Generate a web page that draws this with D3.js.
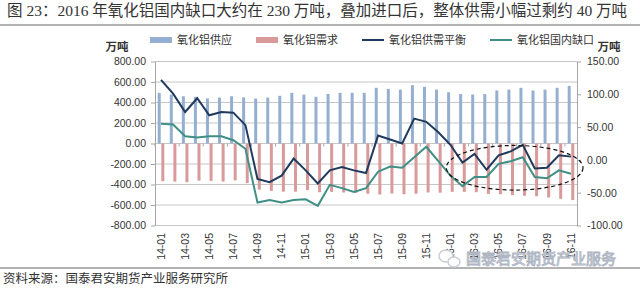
<!DOCTYPE html>
<html>
<head>
<meta charset="utf-8">
<script src="https://cdn.jsdelivr.net/npm/d3@7"></script>
<style>
  body { margin: 0; background: #fff; }
  svg { display: block; }
</style>
</head>
<body>
<div id="chart"></div>
<script>
// 数据
const months = ['14-01','14-02','14-03','14-04','14-05','14-06','14-07','14-08','14-09','14-10','14-11','14-12',
                '15-01','15-02','15-03','15-04','15-05','15-06','15-07','15-08','15-09','15-10','15-11','15-12',
                '16-01','16-02','16-03','16-04','16-05','16-06','16-07','16-08','16-09','16-10','16-11'];
const supply = [494, 477, 461, 455, 440, 448, 461, 450, 438, 448, 465, 494,
                477, 455, 484, 494, 494, 494, 543, 533, 526, 569, 553, 526,
                500, 482, 478, 482, 518, 526, 543, 517, 526, 543, 562];
const demand = [-368, -372, -378, -362, -365, -372, -360, -385, -450, -462, -470, -470,
                -455, -475, -472, -478, -482, -490, -498, -488, -495, -490, -478, -480,
                -472, -472, -475, -492, -495, -503, -510, -515, -527, -540, -552];
const balance = [122, 101, 73, 94, 68, 73, 72, 53, -29, -34, -24, 2,
                 -16, -36, -16, -11, -16, -20, 37, 31, 25, 63, 58, 42,
                 23, -4, 9, -15, 7, 13, 23, -13, -12, 7, 5];
const gap = [55, 54, 36, 34, 36, 36, 30, 17, -65, -61, -65, -61,
             -60, -70, -38, -43, -49, -43, -18, -10, -12, 4, 20, -2,
             -24, -40, -26, -26, -6, -2, 4, -26, -28, -16, -21];
const leftTicks = [-800, -600, -400, -200, 0, 200, 400, 600, 800];
const rightTicks = [-100, -50, 0, 50, 100, 150];
const seriesNames = ['氧化铝供应', '氧化铝需求', '氧化铝供需平衡', '氧化铝国内缺口'];

const cjk = '"Noto Sans CJK SC", sans-serif';
const num = '"Liberation Sans", Arial, sans-serif';
const colors = { supply: '#95afd0', demand: '#d89a9b', balance: '#1f3a5c', gap: '#3f8f86' };

const svg = d3.select('#chart').append('svg')
    .attr('width', 640)
    .attr('height', 290);

// 标题
svg.append('text')
    .attr('x', 7)
    .attr('y', 16)
    .attr('fill', '#333')
    .style('font-family', '"Liberation Serif", ' + cjk)
    .style('font-size', '15.5px')
    .text('图 23：2016 年氧化铝国内缺口大约在 230 万吨，叠加进口后，整体供需小幅过剩约 40 万吨');

svg.append('line').attr('x1', 0).attr('x2', 640).attr('y1', 25).attr('y2', 25)
    .attr('stroke', '#666').attr('stroke-width', 1);

// 比例尺
const x = d3.scaleBand().domain(months).range([155, 577]);
const yL = d3.scaleLinear().domain([-800, 800]).range([225.5, 61.5]);
const yR = d3.scaleLinear().domain([-100, 150]).range([225.5, 61.5]);
const cx = m => x(m) + x.bandwidth() / 2;
const fmt = v => d3.format('.2f')(v).replace('\u2212', '-');

// 网格线
svg.append('g').selectAll('line')
    .data(leftTicks)
    .join('line')
    .attr('x1', 155).attr('x2', 577)
    .attr('y1', d => yL(d)).attr('y2', d => yL(d))
    .attr('stroke', '#c6c6c6')
    .attr('stroke-width', 1);

// 柱子
svg.append('g').selectAll('rect')
    .data(supply)
    .join('rect')
    .attr('x', (d, i) => cx(months[i]) - 3.3)
    .attr('width', 3)
    .attr('y', d => yL(d))
    .attr('height', d => yL(0) - yL(d))
    .attr('fill', colors.supply);

svg.append('g').selectAll('rect')
    .data(demand)
    .join('rect')
    .attr('x', (d, i) => cx(months[i]) + 0.3)
    .attr('width', 3)
    .attr('y', yL(0))
    .attr('height', d => yL(d) - yL(0))
    .attr('fill', colors.demand);

// 坐标轴
const left = svg.append('g')
    .attr('transform', 'translate(155,0)')
    .call(d3.axisLeft(yL).tickValues(leftTicks).tickSize(4).tickSizeOuter(0).tickFormat(fmt));
const right = svg.append('g')
    .attr('transform', 'translate(577,0)')
    .call(d3.axisRight(yR).tickValues(rightTicks).tickSize(4).tickSizeOuter(0).tickFormat(fmt));
[left, right].forEach(g => {
    g.select('.domain').attr('stroke', '#a6a6a6');
    g.selectAll('.tick line').attr('stroke', '#a6a6a6');
    g.selectAll('.tick text')
        .attr('fill', '#333')
        .style('font-family', num)
        .style('font-size', '10.5px');
});
left.selectAll('.tick text').attr('x', -9);
right.selectAll('.tick text').attr('x', 10);

// 横轴刻度和标签
const labelled = months.filter((m, i) => i % 2 === 0);
svg.append('g').selectAll('line')
    .data(labelled)
    .join('line')
    .attr('x1', d => x(d)).attr('x2', d => x(d))
    .attr('y1', yL(0)).attr('y2', yL(0) + 3)
    .attr('stroke', '#a6a6a6');

svg.append('g').selectAll('text')
    .data(labelled)
    .join('text')
    .attr('transform', d => `translate(${cx(d)},233) rotate(-90)`)
    .attr('dy', '0.35em')
    .attr('text-anchor', 'end')
    .attr('fill', '#333')
    .style('font-family', num)
    .style('font-size', '10.5px')
    .text(d => d);

// 折线
const line = d3.line()
    .x((d, i) => cx(months[i]))
    .y(d => yR(d));

svg.append('path')
    .datum(gap)
    .attr('d', line)
    .attr('fill', 'none')
    .attr('stroke', colors.gap)
    .attr('stroke-width', 2);

svg.append('path')
    .datum(balance)
    .attr('d', line)
    .attr('fill', 'none')
    .attr('stroke', colors.balance)
    .attr('stroke-width', 2);

// 虚线圈
const ex0 = x(months[24]) + 2, ex1 = x.range()[1] + 6;
const ey0 = yR(22), ey1 = yR(-46);
svg.append('ellipse')
    .attr('cx', (ex0 + ex1) / 2)
    .attr('cy', (ey0 + ey1) / 2)
    .attr('rx', (ex1 - ex0) / 2)
    .attr('ry', (ey1 - ey0) / 2)
    .attr('fill', 'none')
    .attr('stroke', '#111')
    .attr('stroke-width', 1.2)
    .attr('stroke-dasharray', '4,3');

// 图例
const legendX = [150, 256, 362, 490];
const legend = svg.append('g');
seriesNames.forEach((name, i) => {
    const g = legend.append('g').attr('transform', `translate(${legendX[i]},40)`);
    if (i < 2) {
        g.append('rect').attr('x', 0).attr('y', -3).attr('width', 22).attr('height', 6)
            .attr('fill', i === 0 ? colors.supply : colors.demand);
    } else {
        g.append('line').attr('x1', 0).attr('x2', 22).attr('y1', 0).attr('y2', 0)
            .attr('stroke', i === 2 ? colors.balance : colors.gap).attr('stroke-width', 2);
    }
    g.append('text')
        .attr('x', 27)
        .attr('dy', '0.35em')
        .attr('fill', '#333')
        .style('font-family', cjk)
        .style('font-size', '11px')
        .text(name);
});

// 单位
[[117, 'middle'], [609, 'middle']].forEach(([ux, anchor]) => {
    svg.append('text')
        .attr('x', ux)
        .attr('y', 47)
        .attr('dy', '0.35em')
        .attr('text-anchor', anchor)
        .attr('fill', '#333')
        .style('font-family', cjk)
        .style('font-size', '11.5px')
        .style('font-weight', 'bold')
        .text('万吨');
});

// 底部
svg.append('line').attr('x1', 0).attr('x2', 640).attr('y1', 268).attr('y2', 268)
    .attr('stroke', '#666').attr('stroke-width', 1);

svg.append('text')
    .attr('x', 3)
    .attr('y', 283)
    .attr('fill', '#333')
    .style('font-family', cjk)
    .style('font-size', '12.5px')
    .text('资料来源：国泰君安期货产业服务研究所');

// 水印
svg.append('ellipse').attr('cx', 446).attr('cy', 256).attr('rx', 7).attr('ry', 6)
    .attr('fill', '#fff').attr('stroke', '#c9ced6').attr('stroke-width', 1.5);
svg.append('ellipse').attr('cx', 454).attr('cy', 262).attr('rx', 6).attr('ry', 5)
    .attr('fill', '#fff').attr('stroke', '#c9ced6').attr('stroke-width', 1.5);
svg.append('text')
    .attr('x', 466)
    .attr('y', 264)
    .attr('fill', '#fff')
    .attr('stroke', '#aeb6c4')
    .attr('stroke-width', 0.9)
    .style('font-family', cjk)
    .style('font-size', '15px')
    .text('国泰君安期货产业服务');
</script>
</body>
</html>
